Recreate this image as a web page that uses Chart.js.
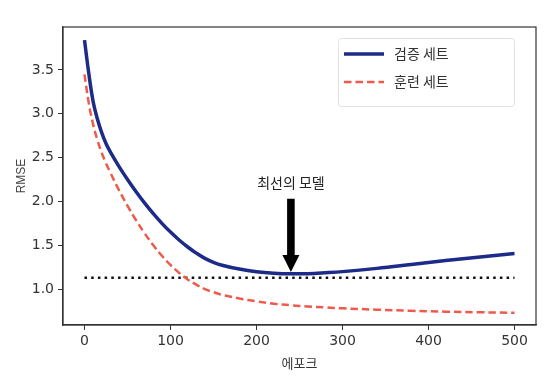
<!DOCTYPE html>
<html>
<head>
<meta charset="utf-8">
<script src="https://cdn.jsdelivr.net/npm/chart.js@4/dist/chart.umd.min.js"></script>
<style>
  html, body { margin: 0; padding: 0; background: #fff; }
  #wrap { width: 546px; height: 377px; }
</style>
</head>
<body>
<div id="wrap"><canvas id="chart" width="546" height="377"></canvas></div>
<script>
const epochs = [0, 5, 10, 15, 20, 25, 30, 40, 50, 60, 70, 80, 90, 100, 110, 120, 130, 140, 150, 160, 180, 200, 220, 240, 260, 280, 300, 340, 380, 420, 460, 500];
// Validation RMSE (solid blue)
const valRmse = [3.84, 3.46, 3.14, 2.94, 2.785, 2.66, 2.565, 2.40, 2.25, 2.11, 1.98, 1.86, 1.75, 1.65, 1.56, 1.48, 1.41, 1.35, 1.305, 1.272, 1.228, 1.198, 1.181, 1.174, 1.176, 1.186, 1.199, 1.236, 1.28, 1.325, 1.365, 1.405];
// Training RMSE (dashed red)
const trainRmse = [3.45, 3.12, 2.88, 2.70, 2.555, 2.435, 2.33, 2.13, 1.95, 1.785, 1.635, 1.50, 1.38, 1.275, 1.185, 1.11, 1.05, 1.0, 0.965, 0.935, 0.893, 0.86, 0.833, 0.815, 0.80, 0.79, 0.78, 0.765, 0.752, 0.742, 0.735, 0.73];
// Best-model reference line
const bestLineX = [0, 500];
const bestLineY = [1.13, 1.13];
// Arrow annotation: epoch, top of shaft, base of head, tip
const arrowEpoch = 240;
const arrowValues = [2.03, 1.39, 1.195];
const arrowLabel = '최선의 모델';
const arrowLabelValue = 2.21;

const xTicks = [0, 100, 200, 300, 400, 500];
const yTicks = [1.0, 1.5, 2.0, 2.5, 3.0, 3.5];

const legendItems = [
  { label: '검증 세트', color: '#1c2a88', dash: [], width: 3.5 },
  { label: '훈련 세트', color: '#ee5a4c', dash: [7.5, 4], width: 2.5 }
];

const TICK_FONT = { family: 'DejaVu Sans', size: 14 };
const KO_FONT = '"Noto Sans CJK KR", "Noto Sans", sans-serif';
const AXIS_COLOR = '#333';

// Frame (top/right edges), arrow annotation and legend box
const extrasPlugin = {
  id: 'extras',
  afterDatasetsDraw(chart) {
    const { ctx, chartArea: a, scales: { x, y } } = chart;
    ctx.save();

    // arrow
    const ax = x.getPixelForValue(arrowEpoch);
    const yTop = y.getPixelForValue(arrowValues[0]);
    const yBase = y.getPixelForValue(arrowValues[1]);
    const yTip = y.getPixelForValue(arrowValues[2]);
    ctx.fillStyle = '#000';
    ctx.beginPath();
    ctx.moveTo(ax - 3.8, yTop);
    ctx.lineTo(ax + 3.8, yTop);
    ctx.lineTo(ax + 3.8, yBase);
    ctx.lineTo(ax + 8.5, yBase);
    ctx.lineTo(ax, yTip);
    ctx.lineTo(ax - 8.5, yBase);
    ctx.lineTo(ax - 3.8, yBase);
    ctx.closePath();
    ctx.fill();

    ctx.fillStyle = '#222';
    ctx.font = '14px ' + KO_FONT;
    ctx.textAlign = 'center';
    ctx.textBaseline = 'middle';
    ctx.fillText(arrowLabel, ax, y.getPixelForValue(arrowLabelValue));

    // legend box
    const lx = a.right - 198, ly = a.top + 11, lw = 176, lh = 68;
    ctx.fillStyle = 'rgba(255,255,255,0.85)';
    ctx.strokeStyle = '#e2e2e2';
    ctx.lineWidth = 1;
    ctx.beginPath();
    ctx.roundRect(lx + 0.5, ly + 0.5, lw, lh, 3);
    ctx.fill();
    ctx.stroke();
    legendItems.forEach((item, i) => {
      const cy = ly + 16 + i * 28;
      ctx.strokeStyle = item.color;
      ctx.lineWidth = item.width;
      ctx.setLineDash(item.dash);
      ctx.beginPath();
      ctx.moveTo(lx + 6, cy);
      ctx.lineTo(lx + 46, cy);
      ctx.stroke();
      ctx.setLineDash([]);
      ctx.fillStyle = '#333';
      ctx.font = '14px ' + KO_FONT;
      ctx.textAlign = 'left';
      ctx.textBaseline = 'middle';
      ctx.fillText(item.label, lx + 56, cy);
    });

    // frame
    ctx.strokeStyle = AXIS_COLOR;
    ctx.lineWidth = 1.2;
    ctx.strokeRect(a.left, a.top, a.right - a.left, a.bottom - a.top);
    ctx.restore();
  }
};

const toPoints = (xs, ys) => xs.map((v, i) => ({ x: v, y: ys[i] }));

new Chart(document.getElementById('chart'), {
  type: 'line',
  data: {
    datasets: [
      {
        label: '검증 세트',
        data: toPoints(epochs, valRmse),
        borderColor: '#1c2a88',
        borderWidth: 3.5,
        pointRadius: 0,
        tension: 0.4
      },
      {
        label: '훈련 세트',
        data: toPoints(epochs, trainRmse),
        borderColor: '#ee5a4c',
        borderWidth: 2.5,
        borderDash: [7.5, 4],
        pointRadius: 0,
        tension: 0.4
      },
      {
        label: 'best',
        data: toPoints(bestLineX, bestLineY),
        borderColor: '#111',
        borderWidth: 2.5,
        borderDash: [2.5, 4.2],
        pointRadius: 0
      }
    ]
  },
  options: {
    responsive: false,
    animation: false,
    layout: { padding: { left: 0, right: 10, top: 27, bottom: 0 } },
    plugins: {
      legend: { display: false },
      tooltip: { enabled: false }
    },
    scales: {
      x: {
        type: 'linear',
        min: -25,
        max: 525,
        afterFit(scale) { scale.height = 52; },
        afterBuildTicks(scale) { scale.ticks = xTicks.map(v => ({ value: v })); },
        ticks: { color: AXIS_COLOR, font: TICK_FONT, padding: 3, maxRotation: 0 },
        grid: { drawOnChartArea: false, drawTicks: true, tickLength: 5, color: AXIS_COLOR },
        border: { display: true, color: AXIS_COLOR, width: 1.2 },
        title: { display: true, text: '에포크', color: '#333', font: { family: KO_FONT, size: 13 }, padding: { top: 2, bottom: 6 } }
      },
      y: {
        min: 0.59,
        max: 3.99,
        afterFit(scale) { scale.width = 63; },
        afterBuildTicks(scale) { scale.ticks = yTicks.map(v => ({ value: v })); },
        ticks: { color: AXIS_COLOR, font: TICK_FONT, padding: 4, callback: v => v.toFixed(1) },
        grid: { drawOnChartArea: false, drawTicks: true, tickLength: 5, color: AXIS_COLOR },
        border: { display: true, color: AXIS_COLOR, width: 1.2 },
        title: { display: true, text: 'RMSE', color: '#444', font: { family: 'Liberation Sans', size: 12 }, padding: { top: 14, bottom: 0 } }
      }
    }
  },
  plugins: [extrasPlugin]
});
</script>
</body>
</html>
